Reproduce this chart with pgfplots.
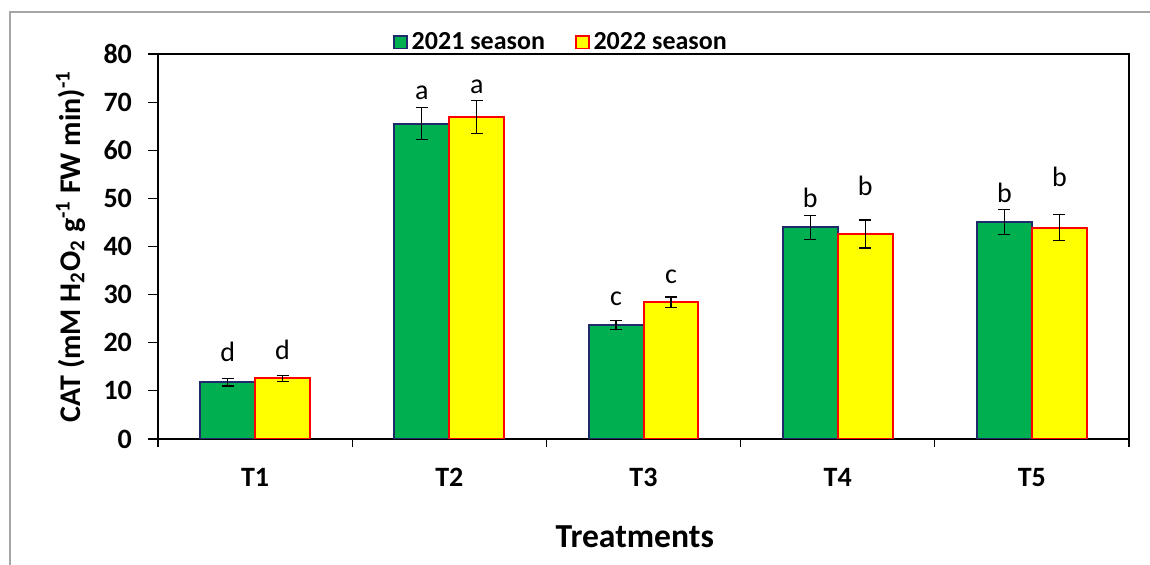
\documentclass[border=0pt]{standalone}
\usepackage{fontspec}
\setmainfont{Carlito}
\usepackage{pgfplots}
\pgfplotsset{compat=1.18}
\definecolor{barG}{HTML}{00B050}
\definecolor{barGb}{HTML}{1F2A6B}
\definecolor{barY}{HTML}{FFFF00}
\definecolor{barYb}{HTML}{FF0000}
\begin{document}
\begin{tikzpicture}
\useasboundingbox (0,0) rectangle (575pt,282.5pt);
\draw[gray!70, line width=0.7pt] (5pt,0) -- (5pt,276.5pt) -- (575pt,276.5pt);
\begin{axis}[
  at={(79pt,63pt)}, anchor=south west,
  scale only axis, width=485.5pt, height=192.5pt,
  ybar, bar width=0.283,
  xmin=-0.5, xmax=4.5, ymin=0, ymax=80,
  ytick={0,10,...,80},
  xtick={0,1,2,3,4}, xticklabels={T1,T2,T3,T4,T5},
  minor xtick={-0.5,0.5,1.5,2.5,3.5,4.5},
  xtick pos=bottom, ytick pos=left,
  tick align=outside,
  major x tick style={draw=none},
  major tick length=5pt, minor tick length=4pt,
  tick style={black, line width=0.6pt},
  axis line style={line width=0.75pt},
  /pgf/number format/assume math mode=true,
  ticklabel style={font=\fontsize{14}{16}\selectfont\bfseries},
  yticklabel style={xshift=-4.5pt},
  xticklabel style={yshift=-6pt},
  ylabel={CAT (mM H\textsubscript{2}O\textsubscript{2} g\textsuperscript{-1} FW min)\textsuperscript{-1}},
  ylabel style={at={(axis description cs:-0.09,0.5)}, anchor=center, font=\fontsize{15}{17}\selectfont\bfseries},
  xlabel={Treatments},
  xlabel style={at={(axis description cs:0.491,-0.2545)}, anchor=center, font=\fontsize{16.8}{19}\selectfont\bfseries},
  legend columns=2,
  legend style={at={(axis description cs:0.416,1.031)}, anchor=center, draw=none, fill=none,
    font=\fontsize{13}{15}\selectfont\bfseries, /tikz/every even column/.append style={column sep=13pt}},
  legend image code/.code={\draw[#1, line width=0.9pt] (0pt,-3.2pt) rectangle (6.4pt,3.2pt);},
  error bars/error bar style={black, line width=0.6pt},
  error bars/error mark options={rotate=90, mark size=3pt, black, line width=0.6pt},
]
\addplot[bar shift=-0.1415, fill=barG, draw=barGb, line width=1pt,
  error bars/.cd, y dir=both, y explicit]
  table[x=x, y=y, y error=e] {
x y e
0 11.8 0.8
1 65.5 3.3
2 23.7 1.0
3 44.0 2.5
4 45.1 2.6
};
\addlegendentry{2021 season}
\addplot[bar shift=0.1415, fill=barY, draw=barYb, line width=1pt,
  error bars/.cd, y dir=both, y explicit]
  table[x=x, y=y, y error=e] {
x y e
0 12.6 0.6
1 66.9 3.4
2 28.4 1.1
3 42.6 2.9
4 43.9 2.7
};
\addlegendentry{2022 season}
\addplot[bar shift=0, draw=none, fill=none, forget plot, nodes near coords, point meta=explicit symbolic,
  nodes near coords style={anchor=base, inner sep=0pt, font=\fontsize{14}{16}\selectfont}]
  table[x=x, y=y, meta=lab] {
x y lab
-0.1415 16.0 d
0.8585 70.6 a
1.8585 27.8 c
2.8585 48.0 b
3.8585 49.1 b
0.1415 16.6 d
1.1415 71.7 a
2.1415 32.4 c
3.1415 50.7 b
4.1415 52.4 b
};
\end{axis}
\end{tikzpicture}
\end{document}
